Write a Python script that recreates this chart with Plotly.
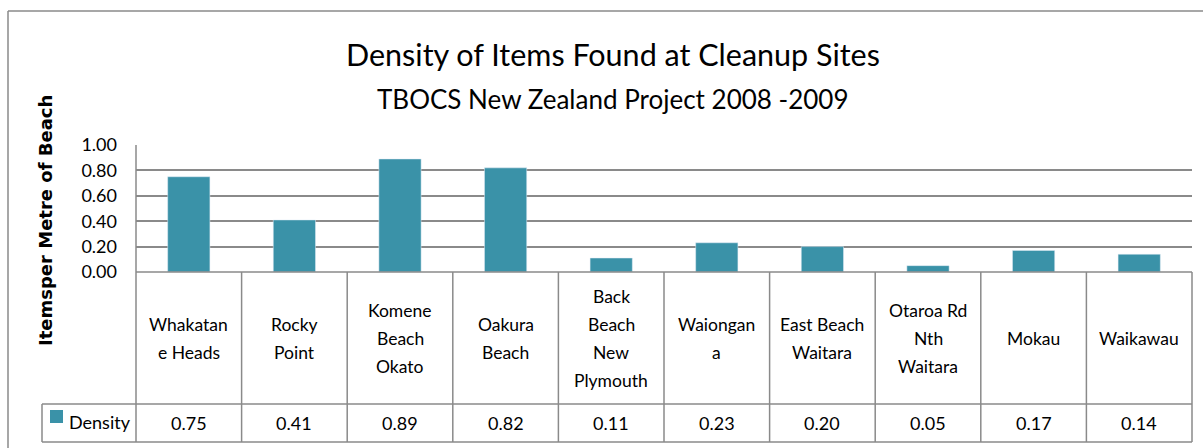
import plotly.graph_objects as go

categories = ["Whakatane Heads", "Rocky Point", "Komene Beach Okato", "Oakura Beach",
              "Back Beach New Plymouth", "Waiongana", "East Beach Waitara",
              "Otaroa Rd Nth Waitara", "Mokau", "Waikawau"]
category_lines = [["Whakatan", "e Heads"], ["Rocky", "Point"], ["Komene", "Beach", "Okato"],
                  ["Oakura", "Beach"], ["Back", "Beach", "New", "Plymouth"], ["Waiongan", "a"],
                  ["East Beach", "Waitara"], ["Otaroa Rd", "Nth", "Waitara"], ["Mokau"], ["Waikawau"]]
density = [0.75, 0.41, 0.89, 0.82, 0.11, 0.23, 0.20, 0.05, 0.17, 0.14]
series_name = "Density"
tick_vals = [0, 0.2, 0.4, 0.6, 0.8, 1.0]
tick_text = ["0.00", "0.20", "0.40", "0.60", "0.80", "1.00"]

BAR = "#3A92A8"
GRID = "#8A8A8A"
FONT = "Lato"

W_PX, H_PX = 1203, 448
L, R, T, B = 136, 1192, 145, 272
PW, PH = R - L, B - T


def px(x):
    return (x - L) / PW


def py(y):
    return (B - y) / PH


fig = go.Figure()
fig.add_trace(go.Bar(x=categories, y=density, marker_color=BAR, name=series_name,
                     hoverinfo="x+y"))

shapes = []
ann = []
line = dict(color=GRID, width=1.5)

# outer chart border (top & left)
shapes.append(dict(type="line", xref="paper", yref="paper", x0=px(8), x1=px(1210), y0=py(11), y1=py(11), line=line))
shapes.append(dict(type="line", xref="paper", yref="paper", x0=px(8), x1=px(8), y0=py(11), y1=py(460), line=line))

# plot left border and table lines
row1, row2 = 404, 442
shapes.append(dict(type="line", xref="paper", yref="paper", x0=0, x1=0, y0=1, y1=py(row2), line=line))
n = len(categories)
for i in range(1, n + 1):
    shapes.append(dict(type="line", xref="paper", yref="paper", x0=i / n, x1=i / n, y0=0, y1=py(row2), line=line))
shapes.append(dict(type="line", xref="paper", yref="paper", x0=0, x1=1, y0=0, y1=0, line=line))
for yy in (row1, row2):
    shapes.append(dict(type="line", xref="paper", yref="paper", x0=px(42), x1=1, y0=py(yy), y1=py(yy), line=line))
shapes.append(dict(type="line", xref="paper", yref="paper", x0=px(42), x1=px(42), y0=py(row1), y1=py(row2), line=line))
# legend key square
shapes.append(dict(type="rect", xref="paper", yref="paper", x0=px(50), x1=px(63), y0=py(410), y1=py(423),
                   fillcolor=BAR, line=dict(width=0)))

# category labels
center = 338
spacing = 28
for cat, lines in zip(categories, category_lines):
    k = len(lines)
    for j, t in enumerate(lines):
        yy = center + (j - (k - 1) / 2) * spacing
        ann.append(dict(x=cat, xref="x", y=py(yy), yref="paper", text=t, showarrow=False,
                        font=dict(family=FONT, size=17.5, color="#000"), xanchor="center", yanchor="middle"))
# values row
for cat, v in zip(categories, density):
    ann.append(dict(x=cat, xref="x", y=py(423), yref="paper", text=f"{v:.2f}", showarrow=False,
                    font=dict(family=FONT, size=18, color="#000"), xanchor="center", yanchor="middle"))
ann.append(dict(x=px(67), xref="paper", y=py(422), yref="paper", text=series_name, showarrow=False,
                font=dict(family=FONT, size=18, color="#000"), xanchor="left", yanchor="middle"))

# titles
ann.append(dict(x=px(613), xref="paper", y=py(54), yref="paper", text="Density of Items Found at Cleanup Sites",
                showarrow=False, font=dict(family=FONT, size=30.5, color="#000"), xanchor="center", yanchor="middle"))
ann.append(dict(x=px(613), xref="paper", y=py(99), yref="paper", text="TBOCS New Zealand Project 2008 -2009",
                showarrow=False, font=dict(family=FONT, size=26, color="#000"), xanchor="center", yanchor="middle"))
ann.append(dict(x=px(45), xref="paper", y=py(221), yref="paper", text="<b>Itemsper Metre of Beach</b>",
                textangle=-90, showarrow=False, font=dict(family="DejaVu Sans", size=18, color="#000"),
                xanchor="center", yanchor="middle"))

fig.update_layout(
    width=W_PX, height=H_PX,
    margin=dict(l=L, r=W_PX - R, t=T, b=H_PX - B),
    paper_bgcolor="white", plot_bgcolor="white",
    showlegend=False, bargap=0.6,
    shapes=shapes, annotations=ann,
    xaxis=dict(showticklabels=False, showgrid=False, zeroline=False, showline=False, ticks=""),
    yaxis=dict(range=[0, 1.0], tickvals=tick_vals, ticktext=tick_text, showgrid=True, gridcolor=GRID,
               gridwidth=1.5, zeroline=False, showline=False, ticks="",
               tickfont=dict(family=FONT, size=18, color="#000"), ticklabelstandoff=18),
)

fig.write_html("out.html", config={"displayModeBar": False},
               post_script="document.body.style.margin='0';")
